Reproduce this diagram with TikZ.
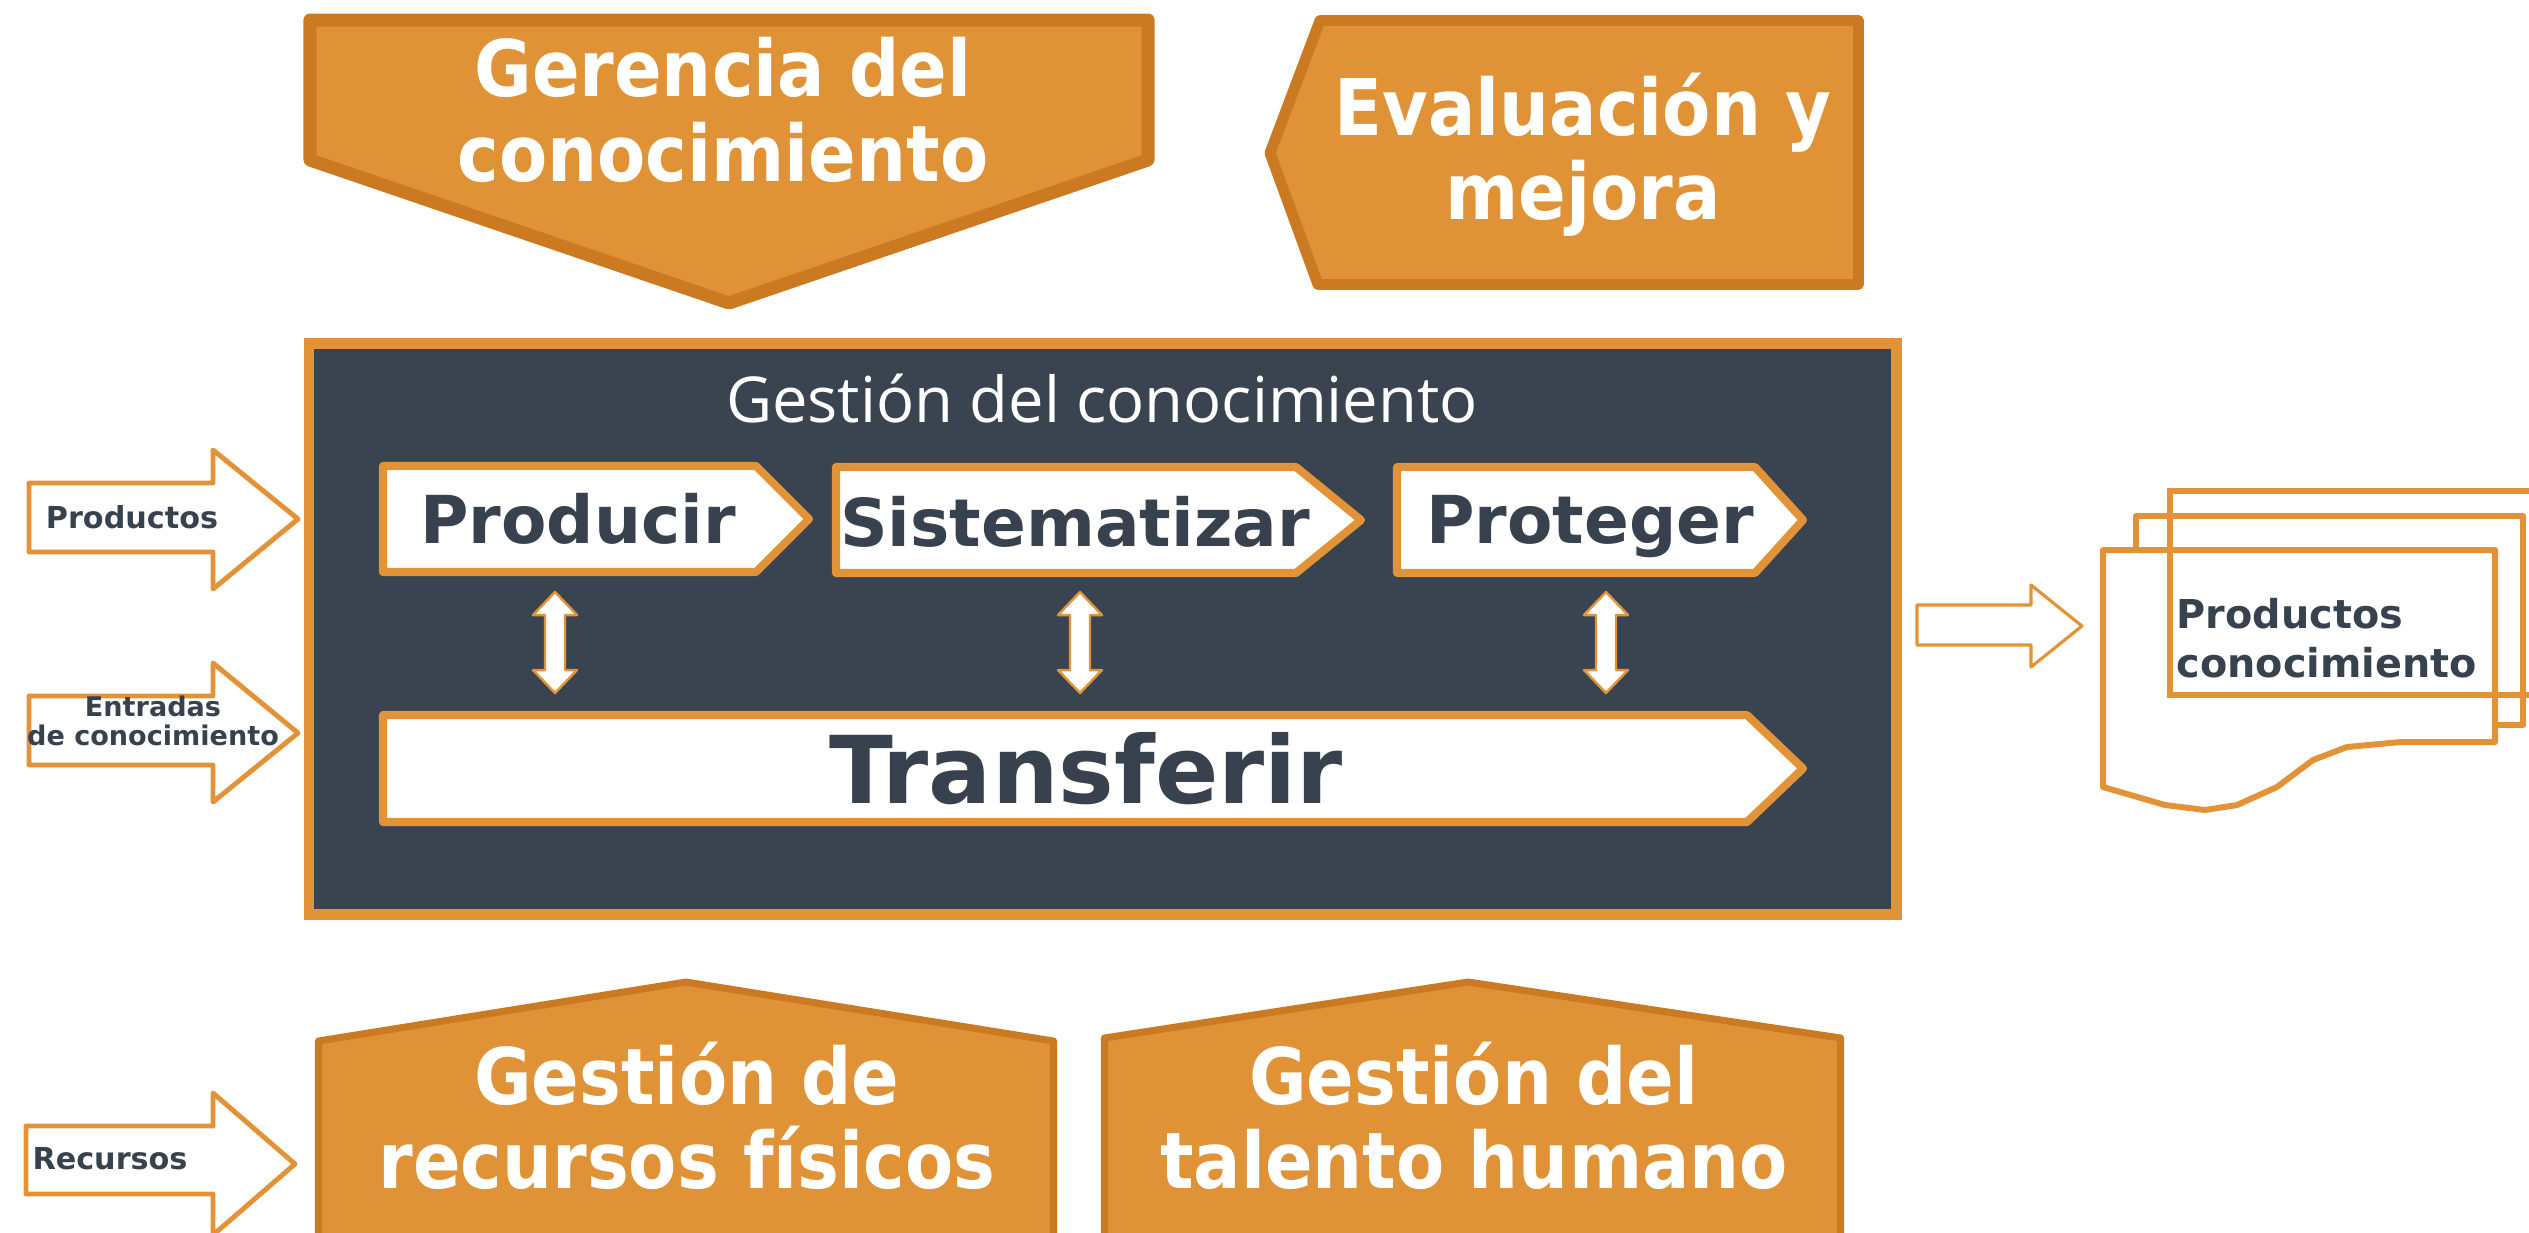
\documentclass[tikz,border=0pt]{standalone}
\usepackage{fontspec}
\setmainfont{DejaVu Sans}
\newfontfamily\condfont{DejaVu Sans Condensed}
\newfontfamily\headfont{Open Sans}
\definecolor{naranja}{HTML}{E09236}
\definecolor{naranjaoscuro}{HTML}{CB7A22}
\definecolor{borde}{HTML}{E29337}
\definecolor{pizarra}{HTML}{3A4450}
\definecolor{tinta}{HTML}{37424E}
\begin{document}
\begin{tikzpicture}[x=0.01cm, y=-0.01cm, bloque style/.style={fill=naranja, draw=naranjaoscuro, line join=round}, titulo style/.style={align=center, text=white, inner sep=0pt, font=\condfont\bfseries\fontsize{22.2}{24}\selectfont}, flecha style/.style={fill=white, draw=borde, line join=round}, paso style/.style={text=tinta, anchor=base, inner sep=0pt, font=\bfseries\fontsize{18.8}{22}\selectfont}, entrada style/.style={text=tinta, align=center, inner sep=0pt, font=\bfseries\fontsize{8.6}{9}\selectfont}]
	\useasboundingbox (0,0) rectangle (2529,1232);
	% bloques superiores
	\draw[bloque style, line width=3.7pt] (310,20) -- (1148,20) -- (1148,160) -- (729,303) -- (310,160) -- cycle;
	\node[titulo style] (G1) at (723,110) {Gerencia del\\conocimiento};
	\draw[bloque style, line width=3.1pt] (1270,153) -- (1320,20.5) -- (1858.5,20.5) -- (1858.5,284.5) -- (1318,284.5) -- cycle;
	\node[titulo style] (G2) at (1583,154.5) {Evaluación y\\mejora};
	% caja central
	\draw[draw=borde, fill=pizarra, line width=3.1pt] (309,343.5) rectangle (1896.5,914.5);
	\node[text=white, anchor=base, inner sep=0pt, font=\headfont\fontsize{18}{20}\selectfont] (H) at (1102,422) {Gestión del conocimiento};
	\draw[flecha style, line width=2.3pt] (383,466) -- (756,466) -- (809,519) -- (756,572) -- (383,572) -- cycle;
	\draw[flecha style, line width=2.3pt] (836,467) -- (1296,467) -- (1361,520) -- (1296,573) -- (836,573) -- cycle;
	\draw[flecha style, line width=2.3pt] (1397,467) -- (1755,467) -- (1803,520) -- (1755,573) -- (1397,573) -- cycle;
	\draw[flecha style, line width=2.3pt] (383,715) -- (1747,715) -- (1803,768.5) -- (1747,822) -- (383,822) -- cycle;
	\node[paso style] (P1) at (578,543) {Producir};
	\node[paso style] (P2) at (1075,546) {Sistematizar};
	\node[paso style] (P3) at (1590,543) {Proteger};
	\node[paso style, font=\bfseries\fontsize{26.6}{30}\selectfont] (T) at (1086,803) {Transferir};
	\foreach \c in {555,1080,1606}
		\draw[flecha style, line width=0.7pt] (\c,592) -- ++(22,23) -- ++(-12,0) -- ++(0,55) -- ++(12,0) -- (\c,693) -- ++(-22,-23) -- ++(12,0) -- ++(0,-55) -- ++(-12,0) -- cycle;
	% entradas
	\draw[flecha style, line width=1.4pt] (29,483) -- (213,483) -- (213,450) -- (298,519) -- (213,589) -- (213,552) -- (29,552) -- cycle;
	\node[entrada style] (E1) at (132,517) {Productos};
	\draw[flecha style, line width=1.4pt] (29,696) -- (213,696) -- (213,663) -- (298,733) -- (213,802) -- (213,765) -- (29,765) -- cycle;
	\node[entrada style, font=\bfseries\fontsize{7.7}{8.3}\selectfont] (E2) at (153,721) {Entradas\\de conocimiento};
	\draw[flecha style, line width=1.4pt] (26,1126) -- (213,1126) -- (213,1093) -- (295,1164) -- (213,1235) -- (213,1194) -- (26,1194) -- cycle;
	\node[entrada style] (E3) at (110,1159) {Recursos};
	% bloques inferiores
	\draw[bloque style, line width=2pt] (318.5,1260) -- (318.5,1041) -- (686,982) -- (1053.5,1041) -- (1053.5,1260) -- cycle;
	\node[titulo style] (G3) at (687,1116) {Gestión de\\recursos físicos};
	\draw[bloque style, line width=2pt] (1104.5,1260) -- (1104.5,1038) -- (1468,982) -- (1840.5,1038) -- (1840.5,1260) -- cycle;
	\node[titulo style] (G4) at (1474,1116) {Gestión del\\talento humano};
	% salida
	\draw[flecha style, line width=0.9pt] (1917,605) -- (2031,605) -- (2031,585) -- (2082,626) -- (2031,667) -- (2031,645) -- (1917,645) -- cycle;
	\draw[flecha style, line width=1.7pt] (2136,516) rectangle (2523,725);
	\draw[flecha style, line width=1.7pt] (2103,550) -- (2495,550) -- (2495,742) -- (2401,742) -- (2347,747) -- (2313,760) -- (2277,787) -- (2237,805) -- (2205,810) -- (2165,805) -- (2103,787) -- cycle;
	\draw[draw=borde, line width=1.7pt] (2170,491) rectangle (2560,695);
	\node[text=tinta, align=left, anchor=west, inner sep=0pt, font=\bfseries\fontsize{11.3}{14}\selectfont] (S) at (2176,638.5) {Productos\\ conocimiento};
\end{tikzpicture}
\end{document}
